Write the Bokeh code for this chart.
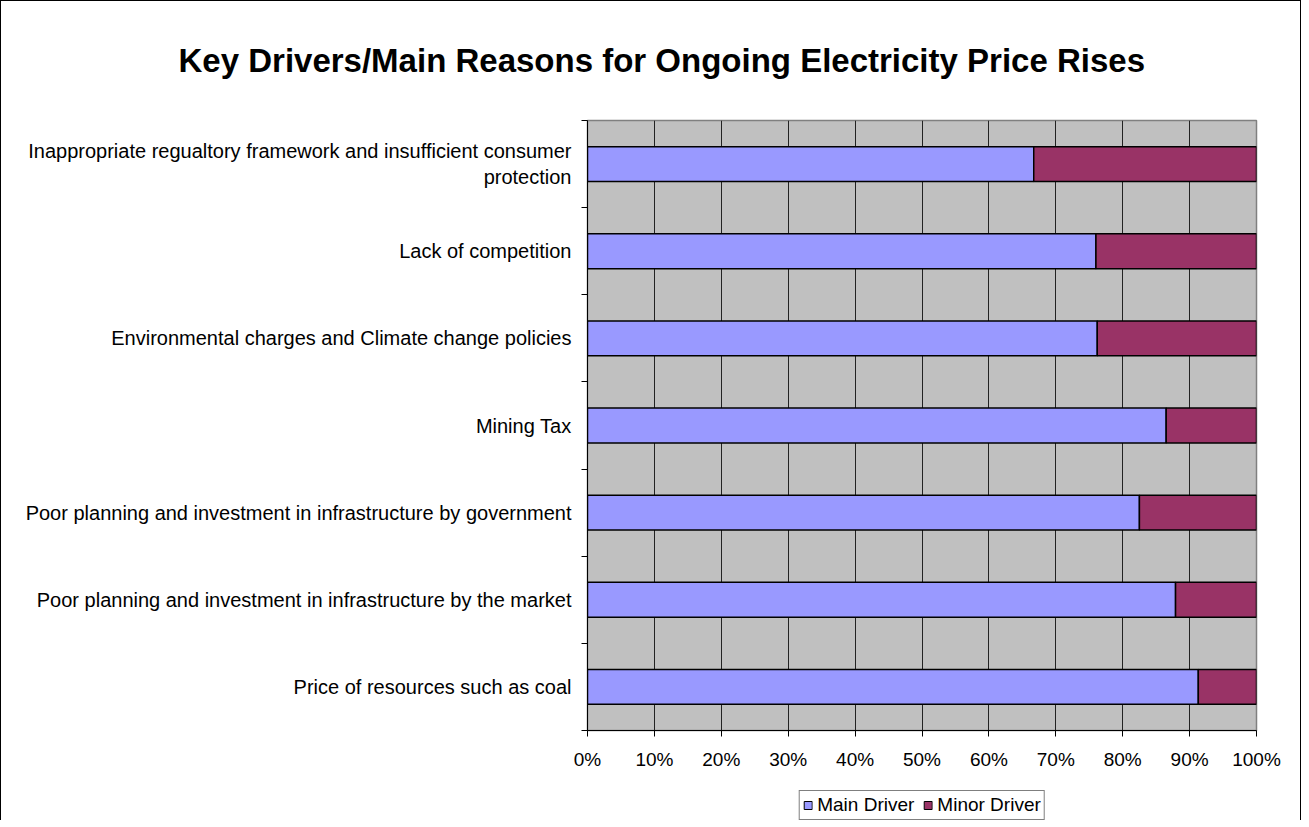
from bokeh.plotting import figure
from bokeh.layouts import column
from bokeh.models import (ColumnDataSource, Range1d, FixedTicker, NumeralTickFormatter,
                          Legend, LegendItem, Title)
from bokeh.embed import file_html
from bokeh.resources import INLINE

# ---- data (top to bottom as shown) ----
categories = [
    "Inappropriate regualtory framework and insufficient consumer\nprotection",
    "Lack of competition",
    "Environmental charges and Climate change policies",
    "Mining Tax",
    "Poor planning and investment in infrastructure by government",
    "Poor planning and investment in infrastructure by the market",
    "Price of resources such as coal",
]
main_driver = [0.667, 0.760, 0.762, 0.865, 0.825, 0.879, 0.913]
minor_driver = [0.333, 0.240, 0.238, 0.135, 0.175, 0.121, 0.087]
x_ticks = [0, 0.1, 0.2, 0.3, 0.4, 0.5, 0.6, 0.7, 0.8, 0.9, 1.0]
series_names = ["Main Driver", "Minor Driver"]
title_text = "Key Drivers/Main Reasons for Ongoing Electricity Price Rises"

MAIN_COLOR = "#9999FF"
MINOR_COLOR = "#993366"
FONT = "Liberation Sans"

n = len(categories)
centers = [i + 0.5 for i in range(n)]
bounds = [i for i in range(n + 1)]

src = ColumnDataSource(dict(y=centers, main=main_driver, minor=minor_driver))

# layout sizes (inside a 1px outer border, open at the bottom; total 1301 x 819)
INNER_H = 818
FW, FH = 669, 610
LEFT, TOP, RIGHT, BOTTOM = 586, 118, 44, 57
MAIN_H = TOP + FH + BOTTOM

p = figure(frame_width=FW, frame_height=FH, output_backend="svg", toolbar_location=None,
           x_range=Range1d(0, 1), y_range=Range1d(n, 0),
           min_border_left=LEFT, min_border_right=RIGHT, min_border_top=TOP,
           min_border_bottom=BOTTOM)
p.background_fill_color = "#C0C0C0"
p.border_fill_color = "white"
p.outline_line_color = "#808080"
p.outline_line_width = 1.5

renderers = p.hbar_stack(["main", "minor"], y="y", height=0.4, source=src,
                         color=[MAIN_COLOR, MINOR_COLOR], line_color="black", line_width=1.5)
for r in renderers:
    r.glyph.line_color = "black"
renderers[0].glyph.fill_color = MAIN_COLOR
renderers[1].glyph.fill_color = MINOR_COLOR

# grid
p.ygrid.grid_line_color = None
p.xgrid.grid_line_color = "#222222"
p.xgrid.grid_line_width = 1
p.xgrid.ticker = FixedTicker(ticks=x_ticks)

# x axis
xa = p.xaxis[0]
xa.ticker = FixedTicker(ticks=x_ticks)
xa.formatter = NumeralTickFormatter(format="0%")
xa.axis_line_color = "black"
xa.major_tick_in = 0
xa.major_tick_out = 6
xa.major_tick_line_color = "black"
xa.minor_tick_line_color = None
xa.major_label_text_font = FONT
xa.major_label_text_font_size = "19px"
xa.major_label_text_color = "black"
xa.major_label_standoff = 12

# y axis
ya = p.yaxis[0]
ya.ticker = FixedTicker(ticks=centers, minor_ticks=bounds)
ya.major_label_overrides = {c: lab for c, lab in zip(centers, categories)}
ya.axis_line_color = "black"
ya.major_tick_in = 0
ya.major_tick_out = 0
ya.minor_tick_in = 0
ya.minor_tick_out = 6
ya.minor_tick_line_color = "black"
ya.major_label_text_font = FONT
ya.major_label_text_font_size = "20px"
ya.major_label_text_color = "black"
ya.major_label_standoff = 10

# title, shifted left so it is centred over the whole chart
title = Title(text=title_text, align="left", offset=178 - 587, vertical_align="top",
              standoff=80, text_font=FONT, text_font_size="33px", text_font_style="bold",
              text_color="black")
p.add_layout(title, "above")

# legend strip below the chart (its renderers sit outside its visible range)
lp = figure(frame_width=FW, frame_height=INNER_H - MAIN_H, output_backend="svg",
            toolbar_location=None, min_border_left=LEFT, min_border_right=RIGHT,
            min_border_top=0, min_border_bottom=0,
            x_range=Range1d(0, 1), y_range=Range1d(n + 10, n + 11),
            x_axis_location=None, y_axis_location=None)
lp.grid.visible = False
lp.outline_line_color = None
lp.background_fill_color = "white"
lp.border_fill_color = "white"
leg_renderers = lp.hbar_stack(["main", "minor"], y="y", height=0.4, source=src,
                              color=[MAIN_COLOR, MINOR_COLOR], line_color="black",
                              line_width=1)
for r in leg_renderers:
    r.glyph.line_color = "black"
leg_renderers[0].glyph.fill_color = MAIN_COLOR
leg_renderers[1].glyph.fill_color = MINOR_COLOR

legend = Legend(items=[LegendItem(label=series_names[0], renderers=[leg_renderers[0]]),
                       LegendItem(label=series_names[1], renderers=[leg_renderers[1]])],
                orientation="horizontal", location="top_center",
                label_text_font=FONT, label_text_font_size="19px", label_text_color="black",
                glyph_width=10, glyph_height=10, spacing=8, padding=3,
                label_standoff=5, border_line_color="black", border_line_width=1,
                margin=3, background_fill_color="white", background_fill_alpha=1)
lp.add_layout(legend, "center")

layout = column(p, lp, spacing=0,
                styles={"border-top": "1px solid black", "border-left": "1px solid black",
                        "border-right": "1px solid black", "background": "white"})

open("out.html", "w").write(file_html(layout, INLINE))
